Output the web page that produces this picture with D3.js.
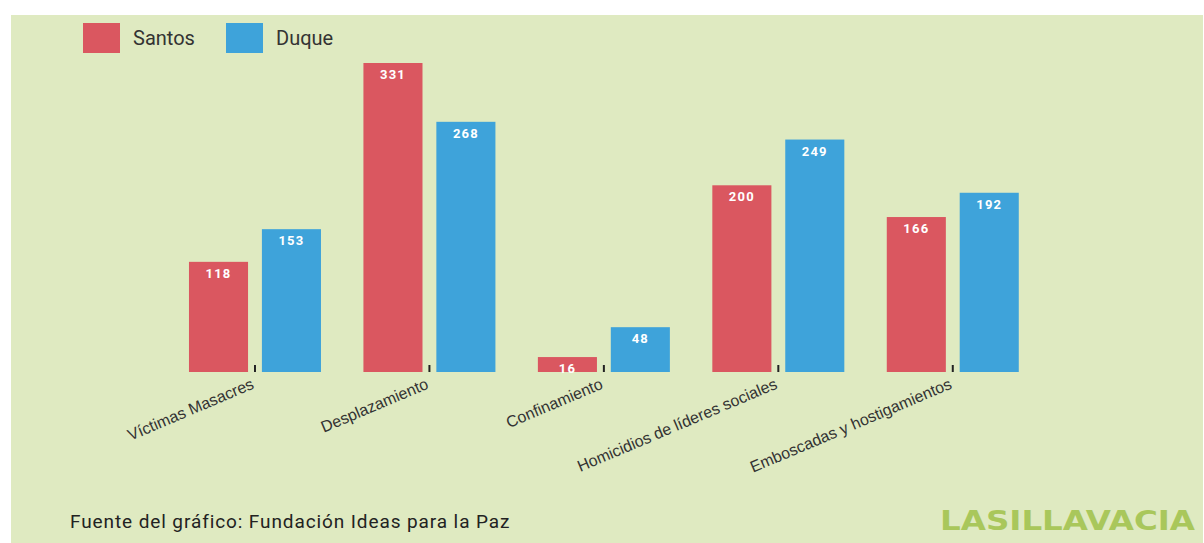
<!DOCTYPE html>
<html>
<head>
<meta charset="utf-8">
<script src="https://cdn.jsdelivr.net/npm/d3@7"></script>
<style>
  body { margin: 0; background: #fff; }
  svg { display: block; font-family: Roboto, "Noto Sans", sans-serif; }
</style>
</head>
<body>
<svg id="chart" width="1204" height="543"></svg>
<script>
const categories = ["Víctimas Masacres", "Desplazamiento", "Confinamiento", "Homicidios de líderes sociales", "Emboscadas y hostigamientos"];
const series = ["Santos", "Duque"];
const santos = [118, 331, 16, 200, 166];
const duque = [153, 268, 48, 249, 192];
const colors = ["#da5760", "#3ea3da"];

const width = 1204, height = 543;
const svg = d3.select("#chart");

// panel background
svg.append("rect")
  .attr("x", 11).attr("y", 15)
  .attr("width", 1192).attr("height", height - 15)
  .attr("fill", "#dfeac1");

const baseY = 372;
const x0 = d3.scaleBand().domain(categories).range([167.75, 1040]).paddingInner(0).paddingOuter(0);
const x1 = d3.scaleBand().domain(series).range([-66, 66]).paddingInner(0.19).paddingOuter(0);
const y = d3.scaleLinear().domain([0, 331]).range([baseY, 63]);

const rows = categories.map((c, i) => ({ cat: c, values: [santos[i], duque[i]] }));

const g = svg.append("g");
const groups = g.selectAll("g.grp").data(rows).enter().append("g")
  .attr("class", "grp")
  .attr("transform", d => `translate(${x0(d.cat) + x0.bandwidth() / 2},0)`);

groups.selectAll("rect").data(d => d.values.map((v, j) => ({ v, s: series[j], j })))
  .enter().append("rect")
  .attr("x", d => x1(d.s))
  .attr("y", d => y(d.v))
  .attr("width", x1.bandwidth())
  .attr("height", d => baseY - y(d.v))
  .attr("fill", d => colors[d.j]);

groups.selectAll("text.val").data(d => d.values.map((v, j) => ({ v, s: series[j], j })))
  .enter().append("text")
  .attr("class", "val")
  .attr("x", d => x1(d.s) + x1.bandwidth() / 2)
  .attr("y", d => y(d.v) + 16)
  .attr("text-anchor", "middle")
  .attr("fill", "#fff")
  .attr("font-size", 13)
  .attr("font-weight", "bold")
  .attr("letter-spacing", 1.2)
  .text(d => d.v);

// x axis ticks and rotated labels
const axis = d3.axisBottom(x0).tickSize(7).tickSizeOuter(0);
const ax = svg.append("g").attr("transform", `translate(0,${baseY - 7})`).call(axis);
ax.select(".domain").remove();
ax.selectAll(".tick line").attr("stroke", "#222").attr("stroke-width", 2);
ax.selectAll(".tick text")
  .attr("fill", "#333")
  .attr("font-size", 16)
  .attr("text-anchor", "end")
  .attr("dy", null)
  .attr("y", 0)
  .attr("transform", "translate(0,23) rotate(-23)");

// legend
const legend = svg.append("g").attr("transform", "translate(83,23)");
series.forEach((s, i) => {
  const lg = legend.append("g").attr("transform", `translate(${i * 143},0)`);
  lg.append("rect").attr("width", 37).attr("height", 30).attr("fill", colors[i]);
  lg.append("text").attr("x", 50).attr("y", 22).attr("font-size", 20).attr("fill", "#333").text(s);
});

// source
svg.append("text")
  .attr("x", 70).attr("y", 528)
  .attr("font-size", 19)
  .attr("letter-spacing", 0.9)
  .attr("fill", "#222")
  .text("Fuente del gráfico: Fundación Ideas para la Paz");

// logo
svg.append("text")
  .attr("x", 940).attr("y", 530)
  .style("font-family", "'DejaVu Sans', sans-serif")
  .attr("font-size", 27)
  .attr("font-weight", "bold")
  .attr("textLength", 255)
  .attr("lengthAdjust", "spacingAndGlyphs")
  .attr("fill", "#a9c75b")
  .text("LASILLAVACIA");
</script>
</body>
</html>
